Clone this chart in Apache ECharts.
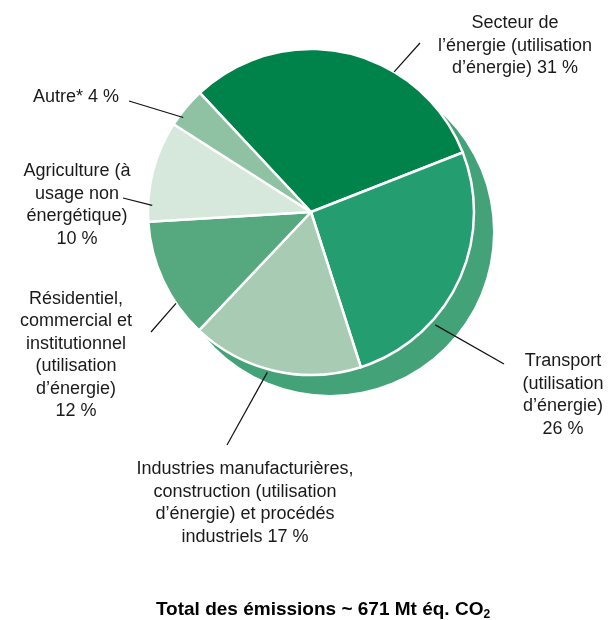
<!DOCTYPE html>
<html>
<head>
<meta charset="utf-8">
<script src="https://cdn.jsdelivr.net/npm/echarts@6/dist/echarts.min.js"></script>
<style>
  html, body { margin: 0; padding: 0; background: #fff; }
  #chart { width: 608px; height: 620px; }
</style>
</head>
<body>
<div id="chart"></div>
<script>
// Émissions par secteur (% du total), dans l'ordre horaire
const sectors = [
  'Secteur de l’énergie',
  'Transport',
  'Industries manufacturières et procédés',
  'Résidentiel, commercial et institutionnel',
  'Agriculture',
  'Autre'
];
const shares = [31, 26, 17, 12, 10, 4];
const labelHeads = [
  'Secteur de\nl’énergie (utilisation\nd’énergie)',
  'Transport\n(utilisation\nd’énergie)',
  'Industries manufacturières,\nconstruction (utilisation\nd’énergie) et procédés\nindustriels',
  'Résidentiel,\ncommercial et\ninstitutionnel\n(utilisation\nd’énergie)',
  'Agriculture (à\nusage non\nénergétique)',
  'Autre*'
];
const percentOnNewLine = [false, true, false, true, true, false];
const sliceColors = ['#00834a', '#249e70', '#a8cbb3', '#56a97f', '#d6e7dc', '#8fc2a3'];
const totalText = 'Total des émissions ~ 671 Mt éq. CO';

// Geometry of the pie
const CENTER = [311, 212];
const RADIUS = 163;
const START_ANGLE = 133;
const SHADOW_OFFSET = [19, 20];

// Label block placement (centre of each text block) and leader line ends
const labelPos = [[515, 46], [563, 395], [245, 503], [76, 355], [77, 205], [76, 97]];
const leaderEnd = [[420, 43], [504, 364], [227, 445], [151, 332], [123, 198], [129, 101]];
// where the leader touches the slice: fraction across the slice, radius factor
const leaderAnchor = [[0.66, 1.0], [0.68, 1.03], [0.54, 1.02], [0.29, 1.0], [0.16, 0.975], [0.27, 0.975]];

const total = shares.reduce((a, b) => a + b, 0);
const leaders = [];
let acc = 0;
shares.forEach((v, i) => {
  const a0 = START_ANGLE - acc / total * 360;
  const span = v / total * 360;
  acc += v;
  const ang = (a0 - leaderAnchor[i][0] * span) * Math.PI / 180;
  const r = RADIUS * leaderAnchor[i][1];
  leaders.push({
    type: 'line',
    silent: true,
    z: 10,
    shape: {
      x1: CENTER[0] + r * Math.cos(ang),
      y1: CENTER[1] - r * Math.sin(ang),
      x2: leaderEnd[i][0],
      y2: leaderEnd[i][1]
    },
    style: { stroke: '#111', lineWidth: 1.2 }
  });
});

const chart = echarts.init(document.getElementById('chart'), null, { renderer: 'canvas' });
chart.setOption({
  animation: false,
  textStyle: { fontFamily: 'Liberation Sans, Arial, sans-serif' },
  title: {
    text: '{a|' + totalText + '}{b|2}',
    left: 318,
    top: 594,
    textAlign: 'center',
    textStyle: {
      rich: {
        a: { fontSize: 19, fontWeight: 'bold', color: '#000', fontFamily: 'Liberation Sans' },
        b: { fontSize: 12, fontWeight: 'bold', color: '#000', fontFamily: 'Liberation Sans', padding: [10, 0, 0, 0] }
      }
    }
  },
  graphic: leaders,
  series: [
    {
      // offset backdrop disc
      type: 'pie',
      silent: true,
      z: 1,
      center: [CENTER[0] + SHADOW_OFFSET[0], CENTER[1] + SHADOW_OFFSET[1]],
      radius: RADIUS,
      label: { show: false },
      labelLine: { show: false },
      itemStyle: { color: '#44a279' },
      data: [{ value: 1, name: '' }]
    },
    {
      type: 'pie',
      z: 2,
      center: CENTER,
      radius: RADIUS,
      startAngle: START_ANGLE,
      clockwise: true,
      itemStyle: { borderColor: '#fff', borderWidth: 2.5 },
      label: {
        show: true,
        position: 'outside',
        color: '#1a1a1a',
        fontSize: 18,
        lineHeight: 22.5,
        fontFamily: 'Liberation Sans',
        align: 'center',
        overflow: 'none',
        width: 260,
        formatter: p => labelHeads[p.dataIndex] + (percentOnNewLine[p.dataIndex] ? '\n' : ' ') + p.value + ' %'
      },
      labelLine: { show: false },
      labelLayout: p => ({
        x: labelPos[p.dataIndex][0],
        y: labelPos[p.dataIndex][1],
        align: 'center',
        verticalAlign: 'middle'
      }),
      data: sectors.map((s, i) => ({ name: s, value: shares[i], itemStyle: { color: sliceColors[i] } }))
    }
  ]
});
</script>
</body>
</html>
